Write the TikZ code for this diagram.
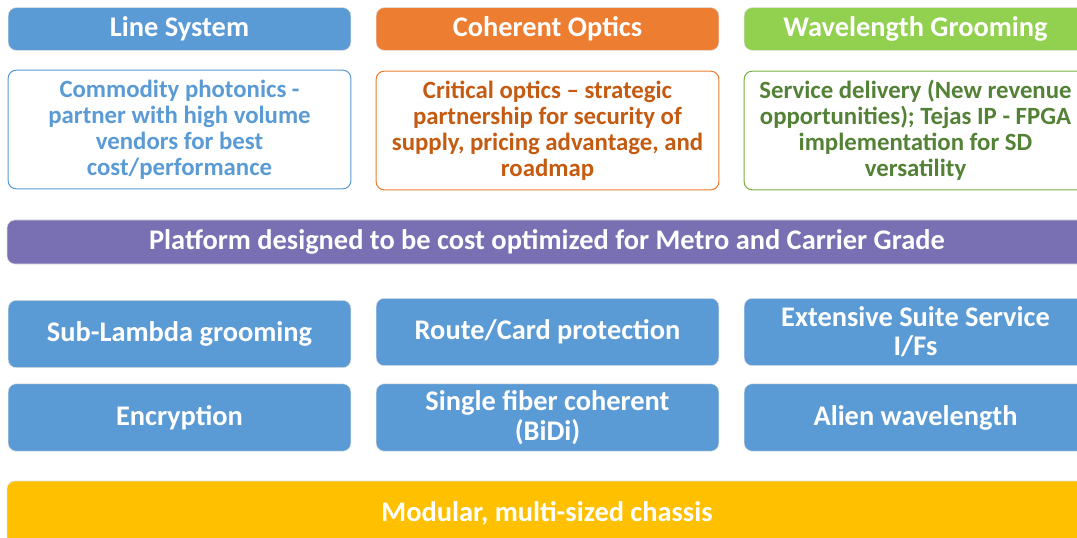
\documentclass[tikz,border=0pt]{standalone}
\usepackage{fontspec}
\setmainfont{Carlito}
\usetikzlibrary{positioning}
\definecolor{lsblue}{HTML}{5B9BD5}
\definecolor{coorange}{HTML}{ED7D31}
\definecolor{codark}{HTML}{C55A11}
\definecolor{wggreen}{HTML}{92D050}
\definecolor{wgdark}{HTML}{538135}
\definecolor{platpurple}{HTML}{7870B2}
\definecolor{chassis}{HTML}{FFC000}
\begin{document}
\begin{tikzpicture}[x=0.75pt,y=-0.75pt,
    every node/.style={rounded corners=6pt,font=\bfseries,text=white,align=center},
    head/.style={draw=gray!25,minimum width=257pt,minimum height=32pt,font=\fontsize{21.3}{24}\bfseries},
    desc/.style={draw=#1,thick,fill=white,minimum width=257pt,minimum height=89pt,text=#1,font=\fontsize{18.6}{19.6}\bfseries},
    feat/.style={fill=lsblue,draw=gray!25,minimum width=257pt,minimum height=50.5pt,font=\fontsize{21.3}{22}\bfseries},
    bar/.style={draw=gray!25,minimum width=810pt,font=\fontsize{21.3}{24}\bfseries}]
    \useasboundingbox (0,0) rectangle (1077,538);
    %top row
    \node[head,fill=lsblue] (ls) at (179.5,29) {Line System};
    \node[head,fill=coorange] (co) at (547.5,29) {Coherent Optics};
    \node[head,fill=wggreen] (wg) at (915.5,29) {Wavelength Grooming};
    \node[desc=lsblue] (lsd) at (179.5,129.5) {Commodity photonics -\\partner with high volume\\vendors for best\\cost/performance};
    \node[desc=coorange,text=codark] (cod) at (547.5,130.5) {Critical optics -- strategic\\partnership for security of\\supply, pricing advantage, and\\roadmap};
    \node[desc=wggreen!85!black,text=wgdark] (wgd) at (915.5,130.5) {Service delivery (New revenue\\opportunities); Tejas IP - FPGA\\implementation for SD\\versatility};
    %platform
    \node[bar,fill=platpurple,minimum height=33pt] (plat) at (547,242) {Platform designed to be cost optimized for Metro and Carrier Grade};
    %features
    \node[feat] (sub) at (179.5,334) {Sub-Lambda grooming};
    \node[feat] (route) at (547.5,332) {Route/Card protection};
    \node[feat] (suite) at (915.5,332) {Extensive Suite Service\\I/Fs};
    \node[feat] (enc) at (179.5,417.5) {Encryption};
    \node[feat] (bidi) at (547.5,417.5) {Single fiber coherent\\(BiDi)};
    \node[feat] (alien) at (915.5,417.5) {Alien wavelength};
    %chassis
    \node[bar,fill=chassis,minimum height=48pt] (mod) at (547,513) {Modular, multi-sized chassis};
\end{tikzpicture}
\end{document}
